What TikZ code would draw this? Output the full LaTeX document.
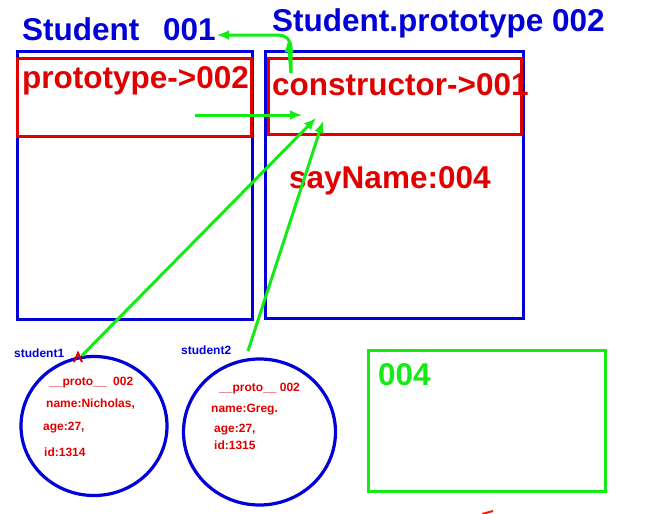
\documentclass[tikz,border=0pt]{standalone}
\usepackage{fontspec}
\setmainfont{Liberation Sans}
\usetikzlibrary{arrows.meta,shapes.geometric}
\definecolor{objblue}{RGB}{0,0,215}
\definecolor{keyred}{RGB}{225,0,0}
\definecolor{ptrgreen}{RGB}{20,235,20}

\begin{document}
\begin{tikzpicture}[x=1pt,y=-1pt, % pixel grid of the screenshot
    big/.style={font=\bfseries\fontsize{31.5}{31.5}\selectfont, inner sep=0pt, anchor=base west},
    small/.style={font=\bfseries\fontsize{12}{12}\selectfont, inner sep=0pt, anchor=base west},
    frame/.style={draw=objblue, line width=3.2pt, inner sep=0pt, anchor=north west},
    slot/.style={draw=keyred, line width=3.2pt, inner sep=0pt, anchor=north west},
    obj/.style={draw=objblue, line width=3.2pt, ellipse, inner sep=0pt},
    link/.style={draw=ptrgreen, line width=3pt, -{Latex[length=12pt,width=10pt]}}]
    \useasboundingbox (0,0) rectangle (656,514);

    % Student (constructor, 001)
    \node[frame, minimum width=235pt, minimum height=268pt] (cls) at (16,50) {};
    \node[slot, minimum width=234pt, minimum height=78pt] (clsslot) at (16,57) {};
    \node[big, text=objblue] (clsname) at (22,40) {Student};
    \node[big, text=objblue] (clsid) at (163,40) {001};
    \node[big, text=keyred] (protoref) at (22,88) {prototype->002};

    % Student.prototype (002)
    \node[frame, minimum width=258pt, minimum height=267pt] (proto) at (264,50) {};
    \node[slot, minimum width=253pt, minimum height=76pt] (protoslot) at (267,57) {};
    \node[big, text=objblue] (protoname) at (272,31) {Student.prototype 002};
    \node[big, text=keyred] (ctor) at (272,95) {constructor->001};
    \node[big, text=keyred] (sayname) at (289,188) {sayName:004};

    % Function sayName (004)
    \node[draw=ptrgreen, line width=3.2pt, inner sep=0pt, anchor=north west,
          minimum width=237pt, minimum height=141pt] (fn) at (367,349) {};
    \node[big, text=ptrgreen] (fnid) at (378,385) {004};

    % Instances
    \node[obj, minimum width=146pt, minimum height=139pt] (s1) at (94,426) {};
    \node[obj, minimum width=152pt, minimum height=146pt] (s2) at (259.5,432) {};
    \node[small, text=objblue] (s1name) at (14,357) {student1};
    \node[small, text=objblue] (s2name) at (181,354) {student2};

    \node[small, text=keyred] (s1proto) at (49,385) {\_\_proto\_\_\ \ 002};
    \node[small, text=keyred] (s1nm) at (46,407) {name:Nicholas,};
    \node[small, text=keyred] (s1age) at (43,430) {age:27,};
    \node[small, text=keyred] (s1id) at (44,456) {id:1314};

    \node[small, text=keyred] (s2proto) at (219,391) {\_\_proto\_\_ 002};
    \node[small, text=keyred] (s2nm) at (211,412) {name:Greg.};
    \node[small, text=keyred] (s2age) at (214,432) {age:27,};
    \node[small, text=keyred] (s2id) at (214,449) {id:1315};

    % Pointer ends
    \coordinate (ctorup) at (291,73);
    \coordinate (bend) at (288,40);
    \coordinate (idtip) at (217,35);
    \coordinate (clsptr) at (195,115);
    \coordinate (ctorin) at (302,115);
    \coordinate (inA) at (316,118);
    \coordinate (inB) at (323,121);
    \coordinate (s2top) at (248,351);

    % Green pointers
    \draw[link, rounded corners=12pt] (ctorup) |- (idtip);
    \draw[link] (ctorup) -- (bend);
    \draw[link] (clsptr) -- (ctorin);
    \draw[link] (s1.100) -- (inA);
    \draw[link] (s2top) -- (inB);

    % Red marks
    \draw[keyred, line width=2pt] (74,362) -- (78,353) -- (82,362);
    \draw[red!80!orange, line width=2pt] (482,514) -- (493,511);
\end{tikzpicture}
\end{document}
